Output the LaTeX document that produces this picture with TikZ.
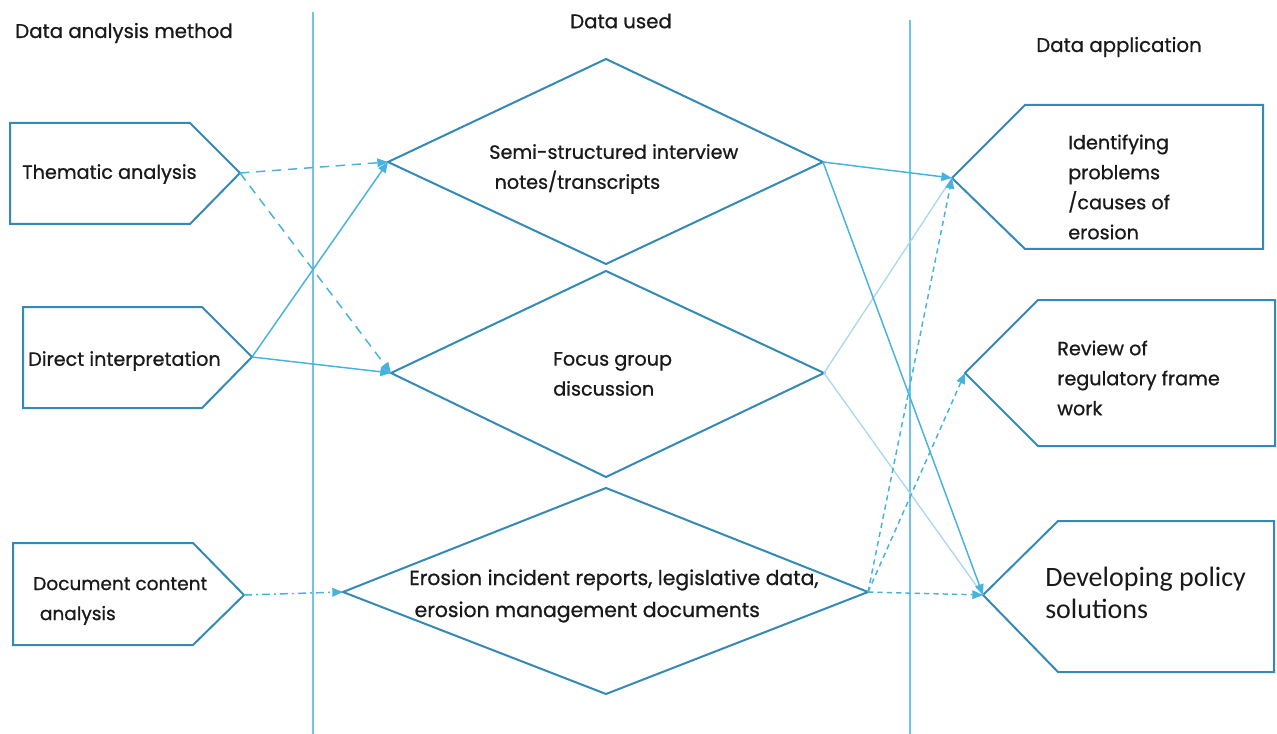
\documentclass[tikz,border=0pt]{standalone}
\usepackage{fontspec}
\setmainfont{Poppins}[UprightFeatures={FakeBold=0.7}]
\newfontfamily\bodyfont{Carlito}
\usetikzlibrary{arrows.meta}
\definecolor{shapeblue}{RGB}{52,138,182}
\definecolor{linkblue}{RGB}{72,178,222}
\definecolor{paleblue}{RGB}{168,217,238}
\definecolor{railblue}{RGB}{112,196,232}
\tikzset{
  outline/.style={draw=shapeblue, line width=1.5pt, line join=miter, fill=white},
  rail/.style={draw=railblue, line width=1.2pt},
  link/.style={draw=linkblue, line width=1.1pt, -{Triangle[length=8pt,width=6.5pt]}},
  palelink/.style={draw=paleblue, line width=1pt},
  dashlink/.style={link, dash pattern=on 7pt off 5pt},
  dotlink/.style={link, dash pattern=on 4pt off 3pt},
  dashdotlink/.style={link, dash pattern=on 6pt off 3pt on 1.5pt off 3pt},
  label/.style={inner sep=0pt, anchor=west, align=left, text=black!90,
    font=\fontsize{14.4}{22.5}\selectfont},
  head/.style={inner sep=0pt, text=black!90, font=\fontsize{14.8}{16}\selectfont}
}
\begin{document}
\begin{tikzpicture}[x=0.75pt, y=-0.75pt]
\useasboundingbox (0,0) rectangle (1277,734);

% column separators
\draw[rail] (313,12) -- (313,734);
\draw[rail] (910,20) -- (910,734);

% column headings
\node[head] (h1) at (124,33) {Data analysis method};
\node[head] (h2) at (621,21) {Data used};
\node[head] (h3) at (1119,47) {Data application};

% analysis methods (arrow shapes pointing right)
\draw[outline] (10,123) -- (190,123) -- (240,173) -- (190,224) -- (10,224) -- cycle;
\coordinate (thm) at (240,173);
\draw[outline] (23,307) -- (202,307) -- (252,357) -- (202,408) -- (23,408) -- cycle;
\coordinate (dir) at (252,357);
\draw[outline] (13,543) -- (193,543) -- (244,595) -- (193,645) -- (13,645) -- cycle;
\coordinate (doc) at (244,595);

% data used (diamonds)
\draw[outline] (388,162) -- (606,59) -- (823,162) -- (606,264) -- cycle;
\coordinate (semiL) at (388,162);
\coordinate (semiR) at (823,162);
\draw[outline] (391,373) -- (606,271) -- (824,373) -- (606,477) -- cycle;
\coordinate (focL) at (391,373);
\coordinate (focR) at (824,373);
\draw[outline] (343,592) -- (606,488) -- (868,592) -- (606,694) -- cycle;
\coordinate (eroL) at (343,592);
\coordinate (eroR) at (868,592);

% data applications (arrow shapes pointing left)
\draw[outline] (952,178) -- (1025,105) -- (1263,105) -- (1263,249) -- (1025,249) -- cycle;
\coordinate (ident) at (952,178);
\draw[outline] (965,373) -- (1038,300) -- (1275,300) -- (1275,446) -- (1038,446) -- cycle;
\coordinate (review) at (965,373);
\draw[outline] (983,595) -- (1058,521) -- (1274,521) -- (1274,672) -- (1058,672) -- cycle;
\coordinate (policy) at (983,595);

% texts
\node[label] (t1) at (22,174) {Thematic analysis};
\node[label] (t2) at (28,361) {Direct interpretation};
\node[label, font=\fontsize{13.9}{22.5}\selectfont] (t3) at (33,601) {Document content\\\hspace{5pt}analysis};
\node[label] (d1) at (489,169) {Semi-structured interview\\\hspace{4pt}notes/transcripts};
\node[label] (d2) at (553,374) {Focus group\\discussion};
\node[label, font=\fontsize{15.3}{24}\selectfont] (d3) at (409,596) {Erosion incident reports, legislative data,\\\hspace{4pt}erosion management documents};
\node[label] (a1) at (1068,187) {Identifying\\problems\\/causes of\\erosion};
\node[label] (a2) at (1057,378) {Review of\\regulatory frame\\work};
\node[label, font=\bodyfont\fontsize{21}{23.5}\selectfont] (a3) at (1045,593) {Developing policy\\solutions};

% methods to data
\draw[dashlink] (thm) -- (semiL);
\draw[dashlink] (thm) -- (focL);
\draw[link] (dir) -- (semiL);
\draw[link] (dir) -- (focL);
\draw[dashdotlink] (doc) -- (eroL);

% data to applications
\draw[palelink] (focR) -- (ident);
\draw[palelink] (focR) -- (policy);
\draw[link] (semiR) -- (ident);
\draw[link] (semiR) -- (policy);
\draw[dotlink] (eroR) -- (ident);
\draw[dotlink] (eroR) -- (review);
\draw[dotlink] (eroR) -- (policy);
\end{tikzpicture}
\end{document}
